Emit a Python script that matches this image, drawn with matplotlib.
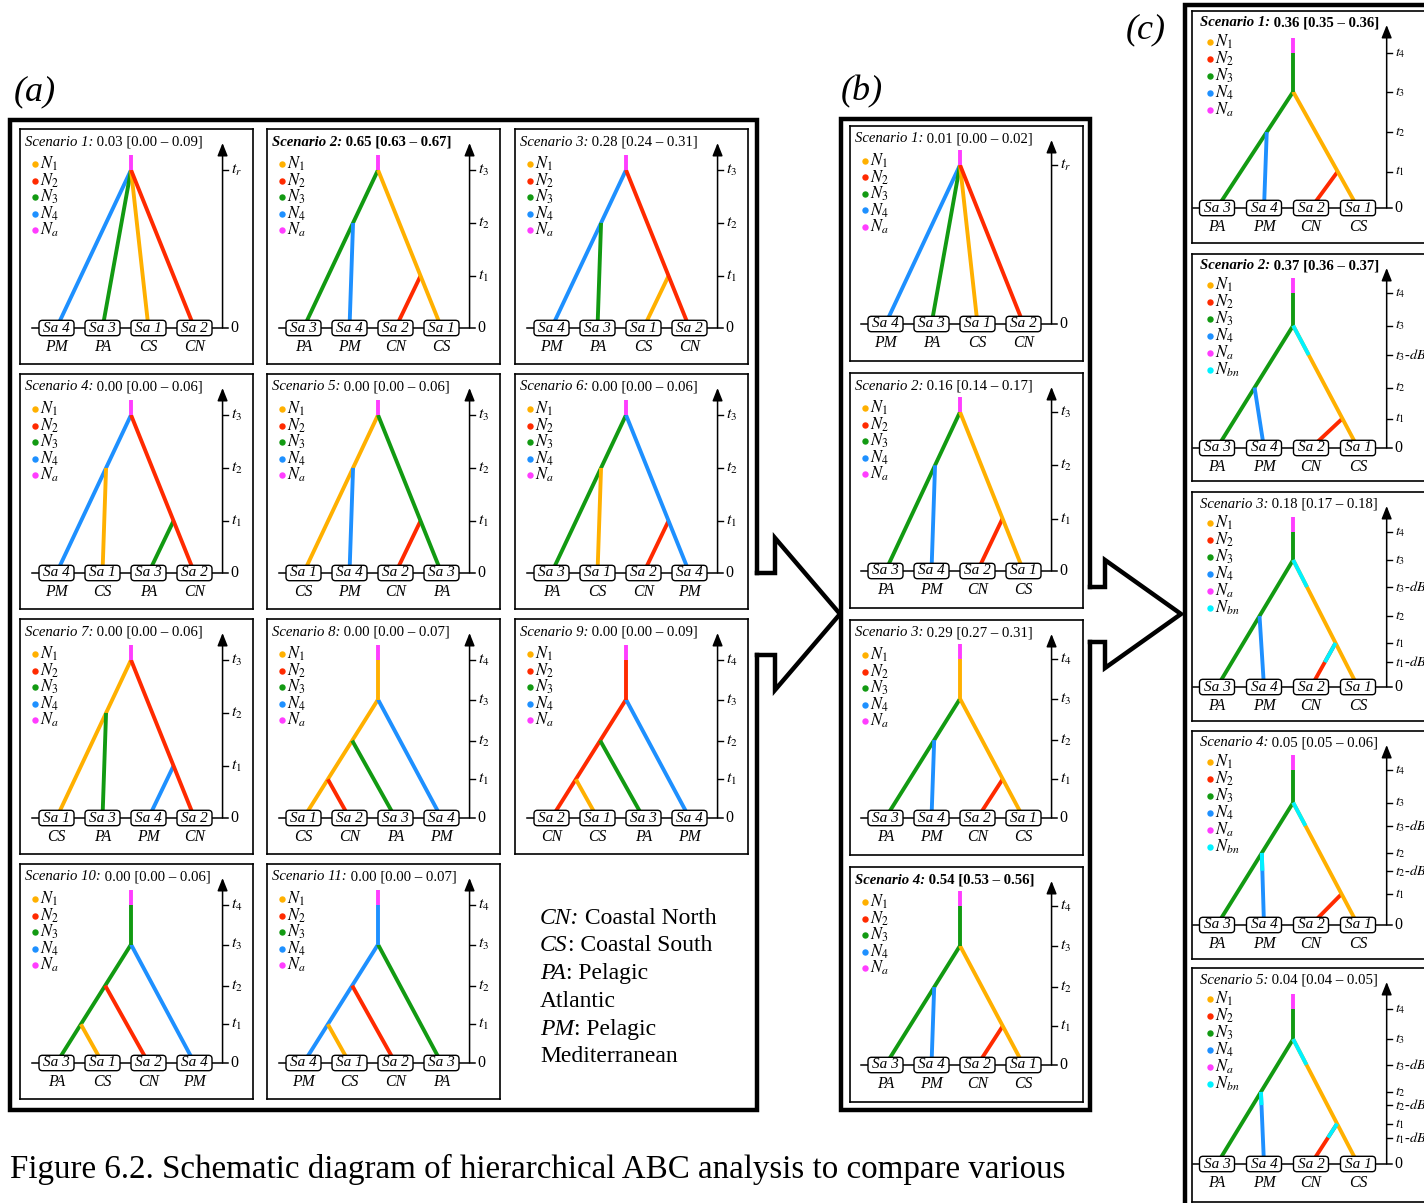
import matplotlib
matplotlib.use('Agg')
import matplotlib.pyplot as plt
import matplotlib.transforms as mtransforms
from matplotlib.patches import FancyBboxPatch

plt.rcParams['font.family'] = ['Liberation Serif', 'DejaVu Serif']
plt.rcParams['mathtext.fontset'] = 'stix'

FIG_W, FIG_H = 1424, 1203

# ---------------- data ----------------
sample_pop = {'Sa 1': 'CS', 'Sa 2': 'CN', 'Sa 3': 'PA', 'Sa 4': 'PM'}
sample_color = {'Sa 1': '#FFB000', 'Sa 2': '#FF2A00', 'Sa 3': '#129A12', 'Sa 4': '#1E90FF'}
color_na = '#FF3DFF'
color_bn = '#00F2FF'
legend_keys = ['N1', 'N2', 'N3', 'N4', 'Na']
legend_keys_bn = ['N1', 'N2', 'N3', 'N4', 'Na', 'Nbn']
legend_text = {'N1': r'$N_{\mathit{1}}$', 'N2': r'$N_{\mathit{2}}$', 'N3': r'$N_{\mathit{3}}$',
               'N4': r'$N_{\mathit{4}}$', 'Na': r'$N_a$', 'Nbn': r'$N_{bn}$'}
legend_color = {'N1': '#FFB000', 'N2': '#FF2A00', 'N3': '#129A12', 'N4': '#1E90FF',
                'Na': '#FF3DFF', 'Nbn': '#00F2FF'}

ticks_star = {'tr': 1.0}
ticks_3 = {'t1': 0.33, 't2': 0.665, 't3': 1.0}
ticks_4 = {'t1': 0.245, 't2': 0.49, 't3': 0.75, 't4': 1.0}

# panel (a)
a_post = [0.03, 0.65, 0.28, 0.00, 0.00, 0.00, 0.00, 0.00, 0.00, 0.00, 0.00]
a_lo = [0.00, 0.63, 0.24, 0.00, 0.00, 0.00, 0.00, 0.00, 0.00, 0.00, 0.00]
a_hi = [0.09, 0.67, 0.31, 0.06, 0.06, 0.06, 0.06, 0.07, 0.09, 0.06, 0.07]
a_bold = [False, True, False, False, False, False, False, False, False, False, False]
a_leaves = [
    ['Sa 4', 'Sa 3', 'Sa 1', 'Sa 2'],
    ['Sa 3', 'Sa 4', 'Sa 2', 'Sa 1'],
    ['Sa 4', 'Sa 3', 'Sa 1', 'Sa 2'],
    ['Sa 4', 'Sa 1', 'Sa 3', 'Sa 2'],
    ['Sa 1', 'Sa 4', 'Sa 2', 'Sa 3'],
    ['Sa 3', 'Sa 1', 'Sa 2', 'Sa 4'],
    ['Sa 1', 'Sa 3', 'Sa 4', 'Sa 2'],
    ['Sa 1', 'Sa 2', 'Sa 3', 'Sa 4'],
    ['Sa 2', 'Sa 1', 'Sa 3', 'Sa 4'],
    ['Sa 3', 'Sa 1', 'Sa 2', 'Sa 4'],
    ['Sa 4', 'Sa 1', 'Sa 2', 'Sa 3'],
]
# merges: (child lineage, parent lineage, time tick)
a_merges = [
    [('Sa 4', 'Sa 1', 'tr'), ('Sa 3', 'Sa 1', 'tr'), ('Sa 2', 'Sa 1', 'tr')],
    [('Sa 2', 'Sa 1', 't1'), ('Sa 4', 'Sa 3', 't2'), ('Sa 1', 'Sa 3', 't3')],
    [('Sa 1', 'Sa 2', 't1'), ('Sa 3', 'Sa 4', 't2'), ('Sa 2', 'Sa 4', 't3')],
    [('Sa 3', 'Sa 2', 't1'), ('Sa 1', 'Sa 4', 't2'), ('Sa 2', 'Sa 4', 't3')],
    [('Sa 2', 'Sa 3', 't1'), ('Sa 4', 'Sa 1', 't2'), ('Sa 3', 'Sa 1', 't3')],
    [('Sa 2', 'Sa 4', 't1'), ('Sa 1', 'Sa 3', 't2'), ('Sa 4', 'Sa 3', 't3')],
    [('Sa 4', 'Sa 2', 't1'), ('Sa 3', 'Sa 1', 't2'), ('Sa 2', 'Sa 1', 't3')],
    [('Sa 2', 'Sa 1', 't1'), ('Sa 3', 'Sa 1', 't2'), ('Sa 4', 'Sa 1', 't3')],
    [('Sa 1', 'Sa 2', 't1'), ('Sa 3', 'Sa 2', 't2'), ('Sa 4', 'Sa 2', 't3')],
    [('Sa 1', 'Sa 3', 't1'), ('Sa 2', 'Sa 3', 't2'), ('Sa 4', 'Sa 3', 't3')],
    [('Sa 1', 'Sa 4', 't1'), ('Sa 2', 'Sa 4', 't2'), ('Sa 3', 'Sa 4', 't3')],
]
a_ticks = [ticks_star, ticks_3, ticks_3, ticks_3, ticks_3, ticks_3, ticks_3,
           ticks_4, ticks_4, ticks_4, ticks_4]

# panel (b)
b_post = [0.01, 0.16, 0.29, 0.54]
b_lo = [0.00, 0.14, 0.27, 0.53]
b_hi = [0.02, 0.17, 0.31, 0.56]
b_bold = [False, False, False, True]
b_leaves = [
    ['Sa 4', 'Sa 3', 'Sa 1', 'Sa 2'],
    ['Sa 3', 'Sa 4', 'Sa 2', 'Sa 1'],
    ['Sa 3', 'Sa 4', 'Sa 2', 'Sa 1'],
    ['Sa 3', 'Sa 4', 'Sa 2', 'Sa 1'],
]
b_merges = [
    [('Sa 4', 'Sa 1', 'tr'), ('Sa 3', 'Sa 1', 'tr'), ('Sa 2', 'Sa 1', 'tr')],
    [('Sa 2', 'Sa 1', 't1'), ('Sa 4', 'Sa 3', 't2'), ('Sa 1', 'Sa 3', 't3')],
    [('Sa 2', 'Sa 1', 't1'), ('Sa 4', 'Sa 3', 't2'), ('Sa 3', 'Sa 1', 't3')],
    [('Sa 2', 'Sa 1', 't1'), ('Sa 4', 'Sa 3', 't2'), ('Sa 1', 'Sa 3', 't3')],
]
b_ticks = [ticks_star, ticks_3, ticks_4, ticks_4]

# panel (c)
c_post = [0.36, 0.37, 0.18, 0.05, 0.04]
c_lo = [0.35, 0.36, 0.17, 0.05, 0.04]
c_hi = [0.36, 0.37, 0.18, 0.06, 0.05]
c_bold = [True, True, False, False, False]
c_leaves = [['Sa 3', 'Sa 4', 'Sa 2', 'Sa 1']] * 5
c_merges = [[('Sa 2', 'Sa 1', 't1'), ('Sa 4', 'Sa 3', 't2'), ('Sa 1', 'Sa 3', 't3')]] * 5
c_ticks = [
    {'t1': 0.235, 't2': 0.49, 't3': 0.75, 't4': 1.0},
    {'t1': 0.19, 't2': 0.39, 't3-dB': 0.60, 't3': 0.79, 't4': 1.0},
    {'t1-dB': 0.16, 't1': 0.284, 't2': 0.458, 't3-dB': 0.645, 't3': 0.82, 't4': 1.0},
    {'t1': 0.20, 't2-dB': 0.35, 't2': 0.465, 't3-dB': 0.64, 't3': 0.79, 't4': 1.0},
    {'t1-dB': 0.17, 't1': 0.26, 't2-dB': 0.38, 't2': 0.465, 't3-dB': 0.64, 't3': 0.806, 't4': 1.0},
]
c_bottlenecks = [
    [],
    [('Sa 1', 't3', 't3-dB')],
    [('Sa 1', 't3', 't3-dB'), ('Sa 2', 't1', 't1-dB')],
    [('Sa 1', 't3', 't3-dB'), ('Sa 4', 't2', 't2-dB')],
    [('Sa 1', 't3', 't3-dB'), ('Sa 4', 't2', 't2-dB'), ('Sa 2', 't1', 't1-dB')],
]

pop_legend_lines = [('CN:', ' Coastal North'), ('CS', ': Coastal South'), ('PA', ': Pelagic'),
                    ('', 'Atlantic'), ('PM', ': Pelagic'), ('', 'Mediterranean')]
caption = 'Figure 6.2. Schematic diagram of hierarchical ABC analysis to compare various'

# ---------------- layout ----------------
ROOT_X = 1.62
AX_X = 3.61
FS = 10.6

fig = plt.figure(figsize=(FIG_W / 100, FIG_H / 100), dpi=100)
ov = fig.add_axes([0, 0, 1, 1])
ov.set_xlim(0, FIG_W)
ov.set_ylim(FIG_H, 0)
ov.axis('off')
ov.set_zorder(0)


def tick_label(k):
    if k == 'tr':
        return r'$t_r$'
    base = r'$t_{\mathit{%s}}$' % k[1]
    if k.endswith('-dB'):
        return base + r'-$dB$'
    return base


def draw_panel(left, top, width, height, geom, idx, post, lo, hi, bold, leaves, merges,
               ticks, bottlenecks=(), legend_bn=False, tick_fs=11.5):
    L0, S, B, Hs, tx, ty, lx, ly, lsp = geom
    ax = fig.add_axes([left / FIG_W, 1 - (top + height) / FIG_H, width / FIG_W, height / FIG_H])
    ax.set_zorder(1)
    ax.set_xticks([])
    ax.set_yticks([])
    for sp in ax.spines.values():
        sp.set_linewidth(1.2)
    px = 1.0 / S
    py = 1.0 / Hs
    xlim = (-L0 / S, (width - L0) / S)
    ylim = (-(height - B) / Hs, B / Hs)
    ax.set_xlim(*xlim)
    ax.set_ylim(*ylim)

    leaf_x = {s: i for i, s in enumerate(leaves)}
    rmerge = max(merges, key=lambda m: ticks[m[2]])
    root_lin = rmerge[1]
    t_root = ticks[rmerge[2]]
    start = {root_lin: (ROOT_X, t_root)}

    def xat(s, t):
        x0, y0 = start[s]
        x1 = leaf_x[s]
        return x1 + (x0 - x1) * t / y0

    for child, parent, key in sorted(merges, key=lambda m: -ticks[m[2]]):
        t = ticks[key]
        start[child] = (xat(parent, t), t)

    lw = 2.8
    for s in leaves:
        x0, y0 = start[s]
        ax.plot([x0, leaf_x[s]], [y0, 0], color=sample_color[s], lw=lw,
                solid_capstyle='butt', zorder=2)
    for s, k0, k1 in bottlenecks:
        t0, t1 = ticks[k0], ticks[k1]
        ax.plot([xat(s, t0), xat(s, t1)], [t0, t1], color=color_bn, lw=lw,
                solid_capstyle='butt', zorder=2.2)
    top_t = max(ticks.values())
    if t_root < top_t:
        ax.plot([ROOT_X, ROOT_X], [t_root, top_t], color=sample_color[root_lin], lw=lw,
                solid_capstyle='butt', zorder=2)
    ax.plot([ROOT_X, ROOT_X], [top_t, top_t + 15 * py], color=color_na, lw=lw,
            solid_capstyle='butt', zorder=2)

    # base line & axis
    ax.plot([-(17.5 + 7) * px, AX_X + 5 * px], [0, 0], color='black', lw=1.1, zorder=1.5)
    ax.annotate('', xy=(AX_X, (B - 14) * py), xytext=(AX_X, 0),
                arrowprops=dict(arrowstyle='-|>,head_length=0.55,head_width=0.22', lw=1.1,
                                color='black', shrinkA=0, shrinkB=0, mutation_scale=14),
                zorder=1.5)
    for k, v in ticks.items():
        ax.plot([AX_X, AX_X + 5 * px], [v, v], color='black', lw=1.0, zorder=1.5)
        ax.text(AX_X + 8 * px, v, tick_label(k), va='center', ha='left', fontsize=tick_fs)
    ax.text(AX_X + 8 * px, 0, '0', va='center', ha='left', fontsize=11.5)

    # sample boxes
    for s in leaves:
        tr = fig.dpi_scale_trans + mtransforms.ScaledTranslation(leaf_x[s], 0, ax.transData)
        box = FancyBboxPatch((-0.175, -0.077), 0.35, 0.154,
                             boxstyle='round,pad=0,rounding_size=0.035',
                             transform=tr, fc='white', ec='black', lw=1.0, zorder=3)
        ax.add_patch(box)
        ax.text(leaf_x[s], 0, s, ha='center', va='center', fontsize=11,
                style='italic', zorder=4)
        ax.text(leaf_x[s], -19 * py, sample_pop[s], ha='center', va='center',
                fontsize=11.3, style='italic', zorder=4)

    # legend
    keys = legend_keys_bn if legend_bn else legend_keys
    for i, k in enumerate(keys):
        yy = 1 - (ly + i * lsp) / height
        ax.plot([lx / width], [yy], 'o', transform=ax.transAxes, ms=4.6,
                color=legend_color[k], mec='none', clip_on=False, zorder=4)
        ax.text((lx + 5) / width, yy, legend_text[k], transform=ax.transAxes,
                va='center', ha='left', fontsize=12)

    # title
    w = 'bold' if bold else 'normal'
    t1 = ax.text(tx / width, 1 - ty / height, 'Scenario %d:' % idx, transform=ax.transAxes,
                 va='center', ha='left', fontsize=FS, style='italic', weight=w)
    ax.annotate(' %.2f [%.2f \u2013 %.2f]' % (post, lo, hi), xy=(1, 0), xycoords=t1,
                va='bottom', ha='left', fontsize=FS, weight=w)
    ax.set_xlim(*xlim)
    ax.set_ylim(*ylim)
    return ax


geom_a = (36.5, 46, 199, 158, 5, 13, 15, 35, 16.5)

a_lefts = [20, 267, 515]
a_tops = [129, 374, 619, 864]
for i in range(11):
    r, c = divmod(i, 3)
    draw_panel(a_lefts[c], a_tops[r], 233, 235, geom_a, i + 1, a_post[i], a_lo[i], a_hi[i],
               a_bold[i], a_leaves[i], a_merges[i], a_ticks[i])

b_tops = [126, 373, 620, 867]
geom_b = (35.5, 46, 198, 159, 5, 13, 15, 35, 16.5)
for i in range(4):
    draw_panel(850, b_tops[i], 233, 235, geom_b, i + 1, b_post[i], b_lo[i], b_hi[i],
               b_bold[i], b_leaves[i], b_merges[i], b_ticks[i])

c_tops = [11, 254, 492, 731, 968]
c_heights = [232, 227, 229, 228, 234]
c_base = [197, 194, 195, 194, 196]
for i in range(5):
    g = (25, 47, c_base[i], 155, 8, 12, 18, 31, 17)
    draw_panel(1192, c_tops[i], 250, c_heights[i], g, i + 1, c_post[i], c_lo[i], c_hi[i],
               c_bold[i], c_leaves[i], c_merges[i], c_ticks[i], c_bottlenecks[i],
               legend_bn=(i > 0), tick_fs=10.3)

# ---------------- frames, arrows, text ----------------
OLW = 3.2
# frame (a) with opening for arrow shaft
ov.plot([757, 757, 10, 10, 757, 757], [573, 120, 120, 1110, 1110, 655], color='black',
        lw=OLW, solid_joinstyle='miter', zorder=1)
# arrow 1
ov.plot([757, 775, 775, 840, 775, 775, 757], [573, 573, 538, 614, 690, 655, 655],
        color='black', lw=OLW, solid_joinstyle='miter', zorder=1)
# frame (b)
ov.plot([1090, 1090, 841, 841, 1090, 1090], [587, 119, 119, 1110, 1110, 642], color='black',
        lw=OLW, solid_joinstyle='miter', zorder=1)
# arrow 2
ov.plot([1090, 1105, 1105, 1181, 1105, 1105, 1090], [587, 587, 560, 614, 668, 642, 642],
        color='black', lw=OLW, solid_joinstyle='miter', zorder=1)
# frame (c)
ov.plot([1500, 1185, 1185], [5, 5, 1250], color='black', lw=OLW, solid_joinstyle='miter',
        zorder=1)

ov.text(35, 92, '(a)', fontsize=26, style='italic', ha='center', va='center')
ov.text(862, 92, '(b)', fontsize=26, style='italic', ha='center', va='center')
ov.text(1146, 30, '(c)', fontsize=26, style='italic', ha='center', va='center')

y0 = 918
for i, (ital, rest) in enumerate(pop_legend_lines):
    yy = y0 + i * 27.8
    if ital:
        t = ov.text(540, yy, ital, fontsize=17, style='italic', va='center', ha='left')
        ov.annotate(rest, xy=(1, 0), xycoords=t, va='bottom', ha='left', fontsize=17)
    else:
        ov.text(540, yy, rest, fontsize=17, va='center', ha='left')

ov.text(10, 1178, caption, fontsize=23.8, va='baseline', ha='left')

fig.savefig('out.png', dpi=100)
